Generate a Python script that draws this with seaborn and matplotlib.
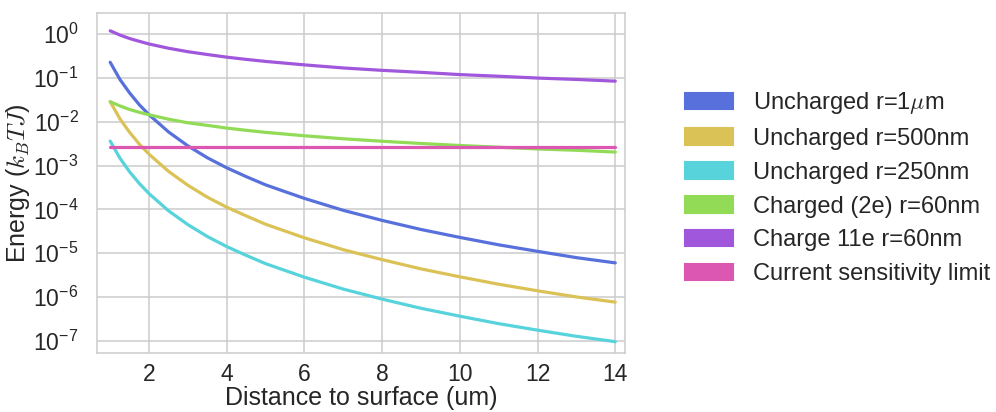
import numpy as np
import pandas as pd
import matplotlib
matplotlib.use("Agg")
import matplotlib.pyplot as plt
import matplotlib.patches as mpatches
import seaborn as sns

# ---- data ----
distance = [1, 1.25, 1.5, 1.75, 2, 2.5, 3, 3.5, 4, 4.5, 5, 6, 7, 8, 9, 10, 11, 12, 13, 14]

uncharged_1um = [2.29e-1, 9.3e-2, 4.57e-2, 2.45e-2, 1.45e-2, 5.89e-3, 2.82e-3, 1.51e-3,
                 8.9e-4, 5.6e-4, 3.63e-4, 1.78e-4, 9.5e-5, 5.6e-5, 3.47e-5, 2.29e-5,
                 1.55e-5, 1.10e-5, 7.9e-6, 6.0e-6]
uncharged_500nm = [2.88e-2, 1.17e-2, 5.75e-3, 3.09e-3, 1.82e-3, 7.4e-4, 3.55e-4, 1.90e-4,
                   1.12e-4, 7.1e-5, 4.57e-5, 2.24e-5, 1.20e-5, 7.1e-6, 4.37e-6, 2.88e-6,
                   1.95e-6, 1.38e-6, 1.0e-6, 7.6e-7]
uncharged_250nm = [3.63e-3, 1.48e-3, 7.2e-4, 3.9e-4, 2.29e-4, 9.3e-5, 4.47e-5, 2.4e-5,
                   1.41e-5, 8.9e-6, 5.75e-6, 2.82e-6, 1.51e-6, 8.9e-7, 5.5e-7, 3.63e-7,
                   2.45e-7, 1.74e-7, 1.26e-7, 9.5e-8]
charged_2e_60nm = [2.88e-2, 2.31e-2, 1.91e-2, 1.65e-2, 1.45e-2, 1.15e-2, 9.5e-3, 8.3e-3,
                   7.2e-3, 6.4e-3, 5.75e-3, 4.8e-3, 4.1e-3, 3.6e-3, 3.2e-3, 2.88e-3,
                   2.63e-3, 2.4e-3, 2.24e-3, 2.04e-3]
charge_11e_60nm = [1.20, 0.96, 0.80, 0.69, 0.60, 0.48, 0.40, 0.345,
                   0.30, 0.267, 0.24, 0.20, 0.17, 0.15, 0.135, 0.12,
                   0.11, 0.10, 0.093, 0.085]
sensitivity_limit = [2.6e-3] * len(distance)

series_names = ["Uncharged r=1$\\mu$m", "Uncharged r=500nm", "Uncharged r=250nm",
                "Charged (2e) r=60nm", "Charge 11e r=60nm", "Current sensitivity limit"]
series_values = [uncharged_1um, uncharged_500nm, uncharged_250nm,
                 charged_2e_60nm, charge_11e_60nm, sensitivity_limit]
x_ticks = [2, 4, 6, 8, 10, 12, 14]
y_tick_exponents = list(range(-7, 1))

# ---- style ----
sns.set_theme(style="whitegrid", context="talk")
plt.rcParams["font.family"] = ["Liberation Sans", "DejaVu Sans"]
plt.rcParams["mathtext.fontset"] = "cm"
plt.rcParams["axes.linewidth"] = 1.1
plt.rcParams["grid.linewidth"] = 1.1

hls = sns.hls_palette(8)
colors = [hls[5], hls[1], hls[4], hls[2], hls[6], hls[7]]

df = pd.concat([pd.DataFrame({"distance": distance, "energy": v, "series": n})
                for n, v in zip(series_names, series_values)], ignore_index=True)

fig = plt.figure(figsize=(9.96, 4.12), dpi=100)
ax = fig.add_axes([0.097, 1 - 352.7 / 412, 0.6275 - 0.097, (352.7 - 12.7) / 412])
ax.set_yscale("log")
sns.lineplot(data=df, x="distance", y="energy", hue="series", hue_order=series_names,
             palette=colors, estimator=None, legend=False, linewidth=2.3, ax=ax)

ax.set_xlim(0.65, 14.25)
ax.set_ylim(10 ** -7.274, 10 ** 0.493)
ax.set_xticks(x_ticks)
ax.set_yticks([10.0 ** k for k in y_tick_exponents])
ax.minorticks_off()
ax.tick_params(axis="x", pad=-1.5)
ax.tick_params(axis="y", pad=4)
ax.set_xlabel("Distance to surface (um)", fontsize=18, labelpad=0)
ax.set_ylabel("Energy ($k_BTJ$)", fontsize=18, labelpad=1)

handles = [mpatches.Patch(color=c, label=n) for c, n in zip(colors, series_names)]
fig.legend(handles=handles, loc="center left", bbox_to_anchor=(0.6787, 0.5445),
           bbox_transform=fig.transFigure, frameon=False, borderaxespad=0,
           fontsize=17, handletextpad=0.85)

fig.savefig("out.png", dpi=100)
